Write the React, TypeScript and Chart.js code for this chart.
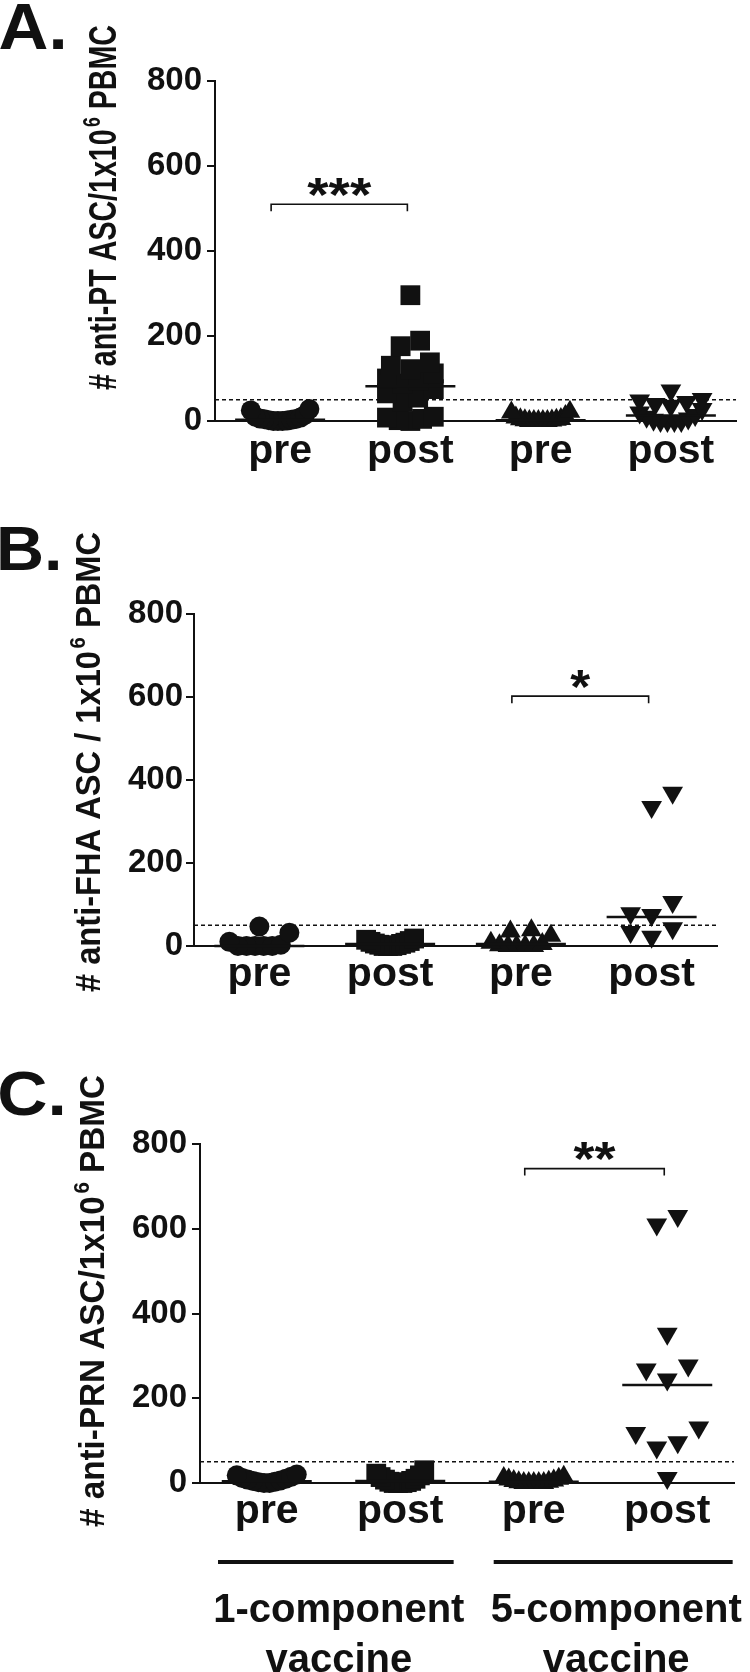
import React, { useEffect, useRef } from 'react';
import { Chart, registerables } from 'chart.js';

Chart.register(...registerables);

// ---------------- data ----------------
const categories = ['pre', 'post', 'pre', 'post'];
const vaccineGroups = ['1-component', '5-component'];
const vaccineWord = 'vaccine';
const yTickValues = [0, 200, 400, 600, 800];
const detectionLimit = 50;

// A. anti-PT
const ptPre1 = [28, 25, 14, 10, 8, 6, 5, 4, 3, 2, 1, 0, 0, 0];
const ptPost1 = [296, 189, 176, 138, 130, 122, 112, 100, 95, 88, 75, 65, 55, 45, 10, 8, 5, 2, 0];
const ptPre5 = [22, 20, 12, 8, 5, 4, 3, 2, 1, 0, 0, 0, 0, 0];
const ptPost5 = [72, 52, 48, 45, 40, 36, 28, 20, 14, 10, 6, 3, 0, 0, 0, 0];
const ptMedians = [3, 82, 2, 13];

// B. anti-FHA
const fhaPre1 = [47, 32, 10, 3, 0, 0, 0, 0, 0];
const fhaPost1 = [18, 15, 12, 10, 8, 6, 5, 3, 2, 0, 0, 0];
const fhaPre5 = [38, 35, 25, 8, 5, 2, 0, 0, 0, 0];
const fhaPost5 = [369, 335, 106, 79, 75, 43, 34, 22];
const fhaMedians = [0, 5, 5, 70];

// C. anti-PRN
const prnPre1 = [20, 18, 15, 12, 10, 8, 6, 5, 3, 2, 0, 0];
const prnPost1 = [30, 22, 18, 14, 10, 8, 5, 3, 2, 0, 0, 0];
const prnPre5 = [15, 12, 10, 8, 6, 5, 3, 2, 0, 0, 0, 0, 0];
const prnPost5 = [630, 610, 352, 277, 268, 244, 131, 118, 96, 84, 12];
const prnMedians = [4, 5, 3, 231];

const panelLetters = ['A.', 'B.', 'C.'];
const yTitleMain = ['# anti-PT ASC/1x10', '# anti-FHA ASC / 1x10', '# anti-PRN ASC/1x10'];
const yTitleSup = '6';
const yTitleTail = ' PBMC';
const sigLabels = ['***', '*', '**'];
const sigFrom = [0, 2, 2];
const sigTo = [1, 3, 3];
const sigHeights = [510, 602, 742];

// ---------------- styling / layout ----------------
const INK = '#111111';
const SANS = '"Liberation Sans", Arial, Helvetica, sans-serif';
const markerStyles = ['circle', 'rect', 'triangle', 'triangle'];
const markerRotations = [0, 0, 0, 180];
const markerRadii = [10, 14, 12, 12];
const markerWidths = [20, 20, 21, 21];
const markerMaxHalf = [30, 24, 30, 32];

const layouts = [
  { top: 0, height: 490, left: 215, right: 749, areaTop: 81, areaBottom: 421, tickPad: 5, xPad: 6,
    letterBox: [0, 3, 63, 49], titleBase: 116, titleTop: 25, titleBottom: 390, titleCap: 27 },
  { top: 490, height: 510, left: 194, right: 717, areaTop: 614, areaBottom: 946, tickPad: 3, xPad: 4,
    letterBox: [0, 526, 58, 570], titleBase: 100, titleTop: 532, titleBottom: 992, titleCap: 25 },
  { top: 1000, height: 672, left: 200, right: 734, areaTop: 1144, areaBottom: 1483, tickPad: 5, xPad: 4,
    letterBox: [0, 1071, 62, 1116], titleBase: 104, titleTop: 1075, titleBottom: 1527, titleCap: 25 },
];
const groupSpans = [[0.635, 2.4], [2.7, 4.49]];
const groupLineY = 1562;
const groupTextY = 1622;

const panelValues = [
  [ptPre1, ptPost1, ptPre5, ptPost5],
  [fhaPre1, fhaPost1, fhaPre5, fhaPost5],
  [prnPre1, prnPost1, prnPre5, prnPost5],
];
const panelMedians = [ptMedians, fhaMedians, prnMedians];

// deterministic column-scatter layout (no randomness): values in the same row are
// spread symmetrically; a row widens if it would collide with rows already placed.
function columnScatter(values: number[], catPos: number, pxPerUnit: number, bandPx: number, maxHalf: number, w: number) {
  const rowTol = 14;
  const D = w * 0.85;
  const sorted = [...values].sort((a, b) => a - b);
  const rows: number[][] = [];
  for (const v of sorted) {
    const r = rows[rows.length - 1];
    if (r && (v - r[0]) * pxPerUnit < rowTol) r.push(v);
    else rows.push([v]);
  }
  const placed: { dx: number; py: number; v: number }[] = [];
  for (const row of rows) {
    const n = row.length;
    const s = n > 1 ? Math.min(w, (2 * maxHalf) / (n - 1)) : w;
    const base = row.map((_, k) => (k - (n - 1) / 2) * s);
    const cands: number[][] = [];
    if (n === 1) [0, s, -s, 1.5 * s, -1.5 * s].forEach((o) => cands.push([o]));
    else [0, 0.5, 1, 1.5].forEach((e) => cands.push(base.map((b) => b + Math.sign(b) * e * s)));
    const assign = (pos: number[]) => {
      const order = pos.map((_, k) => k).sort((a, b) => Math.abs(pos[a]) - Math.abs(pos[b]) || pos[a] - pos[b]);
      return row.map((v, k) => ({ dx: pos[order[k]], py: v * pxPerUnit, v }));
    };
    const collides = (pts: { dx: number; py: number }[]) =>
      pts.some((q) => placed.some((p) => (p.dx - q.dx) ** 2 + (p.py - q.py) ** 2 < D * D));
    let chosen = assign(cands[0]);
    for (const c of cands) {
      if (Math.max(...c.map(Math.abs)) > maxHalf + 4) continue;
      const pts = assign(c);
      if (!collides(pts)) {
        chosen = pts;
        break;
      }
    }
    placed.push(...chosen);
  }
  return placed.map((p) => ({ x: catPos + p.dx / bandPx, y: p.v }));
}

function drawFitted(ctx: CanvasRenderingContext2D, text: string, cx: number, cy: number, w: number, h: number) {
  ctx.save();
  ctx.font = `bold 100px ${SANS}`;
  ctx.textAlign = 'left';
  ctx.textBaseline = 'alphabetic';
  const m = ctx.measureText(text);
  const iw = m.actualBoundingBoxLeft + m.actualBoundingBoxRight;
  const ih = m.actualBoundingBoxAscent + m.actualBoundingBoxDescent;
  ctx.translate(cx, cy);
  ctx.scale(w / iw, h / ih);
  const icx = (m.actualBoundingBoxRight - m.actualBoundingBoxLeft) / 2;
  const icy = (m.actualBoundingBoxDescent - m.actualBoundingBoxAscent) / 2;
  ctx.fillStyle = INK;
  ctx.fillText(text, -icx, -icy);
  ctx.restore();
}

function drawYTitle(ctx: CanvasRenderingContext2D, i: number) {
  const L = layouts[i];
  const main = yTitleMain[i];
  ctx.save();
  const F = 100;
  const SF = 62;
  ctx.font = `bold ${F}px ${SANS}`;
  const capM = ctx.measureText('H').actualBoundingBoxAscent;
  const mainW = ctx.measureText(main).width;
  const tailW = ctx.measureText(yTitleTail).width;
  ctx.font = `bold ${SF}px ${SANS}`;
  const supW = ctx.measureText(yTitleSup).width;
  const gap = F * 0.08;
  const total = mainW + gap + supW + tailW;
  const along = (L.titleBottom - L.titleTop) / total;
  const across = L.titleCap / capM;
  ctx.translate(L.titleBase, L.titleBottom - L.top);
  ctx.rotate(-Math.PI / 2);
  ctx.scale(along, across);
  ctx.fillStyle = INK;
  ctx.textAlign = 'left';
  ctx.textBaseline = 'alphabetic';
  ctx.font = `bold ${F}px ${SANS}`;
  ctx.fillText(main, 0, 0);
  ctx.font = `bold ${SF}px ${SANS}`;
  ctx.fillText(yTitleSup, mainW + gap, -capM * 0.6);
  ctx.font = `bold ${F}px ${SANS}`;
  ctx.fillText(yTitleTail, mainW + gap + supW, 0);
  ctx.restore();
}

function makeConfig(i: number): any {
  const L = layouts[i];
  const pxPerUnit = (L.areaBottom - L.areaTop) / 800;
  const bandPx = (L.right - L.left) / 4;
  const datasets = panelValues[i].map((vals, g) => ({
    label: categories[g] + ' ' + vaccineGroups[g < 2 ? 0 : 1],
    data: columnScatter(vals, g + 1, pxPerUnit, bandPx, markerMaxHalf[g], markerWidths[g]),
    pointStyle: markerStyles[g],
    rotation: markerRotations[g],
    pointRadius: markerRadii[g],
    pointHoverRadius: markerRadii[g],
    backgroundColor: INK,
    borderColor: INK,
    borderWidth: 0,
    showLine: false,
    clip: false,
  }));

  const overlay = {
    id: 'overlay' + i,
    beforeDatasetsDraw(chart: any) {
      const { ctx, chartArea, scales } = chart;
      const yy = scales.y.getPixelForValue(detectionLimit);
      ctx.save();
      ctx.strokeStyle = INK;
      ctx.lineWidth = 1.6;
      ctx.setLineDash([4, 3]);
      ctx.beginPath();
      ctx.moveTo(chartArea.left, yy);
      ctx.lineTo(chartArea.right, yy);
      ctx.stroke();
      ctx.restore();
    },
    afterDatasetsDraw(chart: any) {
      const { ctx, scales } = chart;
      const x = scales.x;
      const y = scales.y;
      ctx.save();
      ctx.strokeStyle = INK;
      ctx.lineWidth = 2.5;
      panelMedians[i].forEach((m, g) => {
        const cx = x.getPixelForValue(g + 1);
        const my = y.getPixelForValue(m);
        ctx.beginPath();
        ctx.moveTo(cx - 45, my);
        ctx.lineTo(cx + 45, my);
        ctx.stroke();
      });
      const x1 = x.getPixelForValue(sigFrom[i] + 1) - 9;
      const x2 = x.getPixelForValue(sigTo[i] + 1) - 3;
      const by = y.getPixelForValue(sigHeights[i]);
      ctx.lineWidth = 1.6;
      ctx.beginPath();
      ctx.moveTo(x1, by + 7);
      ctx.lineTo(x1, by);
      ctx.lineTo(x2, by);
      ctx.lineTo(x2, by + 7);
      ctx.stroke();
      ctx.restore();
      const n = sigLabels[i].length;
      drawFitted(ctx, sigLabels[i], (x1 + x2) / 2, by - 17, 20 + 22 * (n - 1), 18);
    },
    afterDraw(chart: any) {
      const { ctx, scales } = chart;
      drawYTitle(ctx, i);
      const b = L.letterBox;
      drawFitted(ctx, panelLetters[i], (b[0] + b[2]) / 2, (b[1] + b[3]) / 2 - L.top, b[2] - b[0], b[3] - b[1]);
      if (i === 2) {
        const x = scales.x;
        ctx.save();
        ctx.strokeStyle = INK;
        ctx.fillStyle = INK;
        ctx.lineWidth = 4;
        groupSpans.forEach((span, g) => {
          const xa = x.getPixelForValue(span[0]);
          const xb = x.getPixelForValue(span[1]);
          ctx.beginPath();
          ctx.moveTo(xa, groupLineY - L.top);
          ctx.lineTo(xb, groupLineY - L.top);
          ctx.stroke();
          ctx.font = `bold 40px ${SANS}`;
          ctx.textAlign = 'center';
          ctx.textBaseline = 'alphabetic';
          ctx.fillText(vaccineGroups[g], (xa + xb) / 2 + 3, groupTextY - L.top);
          ctx.fillText(vaccineWord, (xa + xb) / 2 + 3, groupTextY - L.top + 50);
        });
        ctx.restore();
      }
    },
  };

  return {
    type: 'scatter',
    data: { datasets },
    plugins: [overlay],
    options: {
      responsive: false,
      animation: false,
      events: [],
      layout: { padding: { left: 0, right: 750 - L.right, top: L.areaTop - L.top, bottom: 0 } },
      plugins: { legend: { display: false }, tooltip: { enabled: false } },
      scales: {
        x: {
          type: 'linear',
          min: 0.5,
          max: 4.5,
          afterBuildTicks: (s: any) => {
            s.ticks = categories.map((_, k) => ({ value: k + 1 }));
          },
          afterFit: (s: any) => {
            s.height = L.height - (L.areaBottom - L.top);
          },
          grid: { display: false, drawTicks: false },
          border: { display: true, color: INK, width: 2 },
          ticks: {
            autoSkip: false,
            maxRotation: 0,
            padding: L.xPad,
            color: INK,
            font: { family: SANS, size: 41, weight: 'bold' },
            callback: (v: any) => categories[Math.round(v) - 1] ?? '',
          },
        },
        y: {
          type: 'linear',
          min: 0,
          max: 800,
          afterBuildTicks: (s: any) => {
            s.ticks = yTickValues.map((v) => ({ value: v }));
          },
          afterFit: (s: any) => {
            s.width = L.left;
          },
          grid: { display: true, drawOnChartArea: false, drawTicks: true, tickLength: 8, color: INK, lineWidth: 2 },
          border: { display: true, color: INK, width: 2 },
          ticks: {
            padding: L.tickPad,
            color: INK,
            font: { family: SANS, size: 33, weight: 'bold' },
          },
        },
      },
    },
  };
}

function Panel({ index }: { index: number }) {
  const ref = useRef<HTMLCanvasElement>(null);
  useEffect(() => {
    const chart = new Chart(ref.current as HTMLCanvasElement, makeConfig(index));
    return () => chart.destroy();
  }, [index]);
  const L = layouts[index];
  return (
    <canvas
      ref={ref}
      width={750}
      height={L.height}
      style={{ position: 'absolute', left: 0, top: L.top, width: 750, height: L.height, display: 'block' }}
    />
  );
}

export default function App() {
  return (
    <div style={{ position: 'absolute', left: 0, top: 0, width: 750, height: 1672, background: '#fff', overflow: 'hidden' }}>
      {[0, 1, 2].map((i) => (
        <Panel key={i} index={i} />
      ))}
    </div>
  );
}
